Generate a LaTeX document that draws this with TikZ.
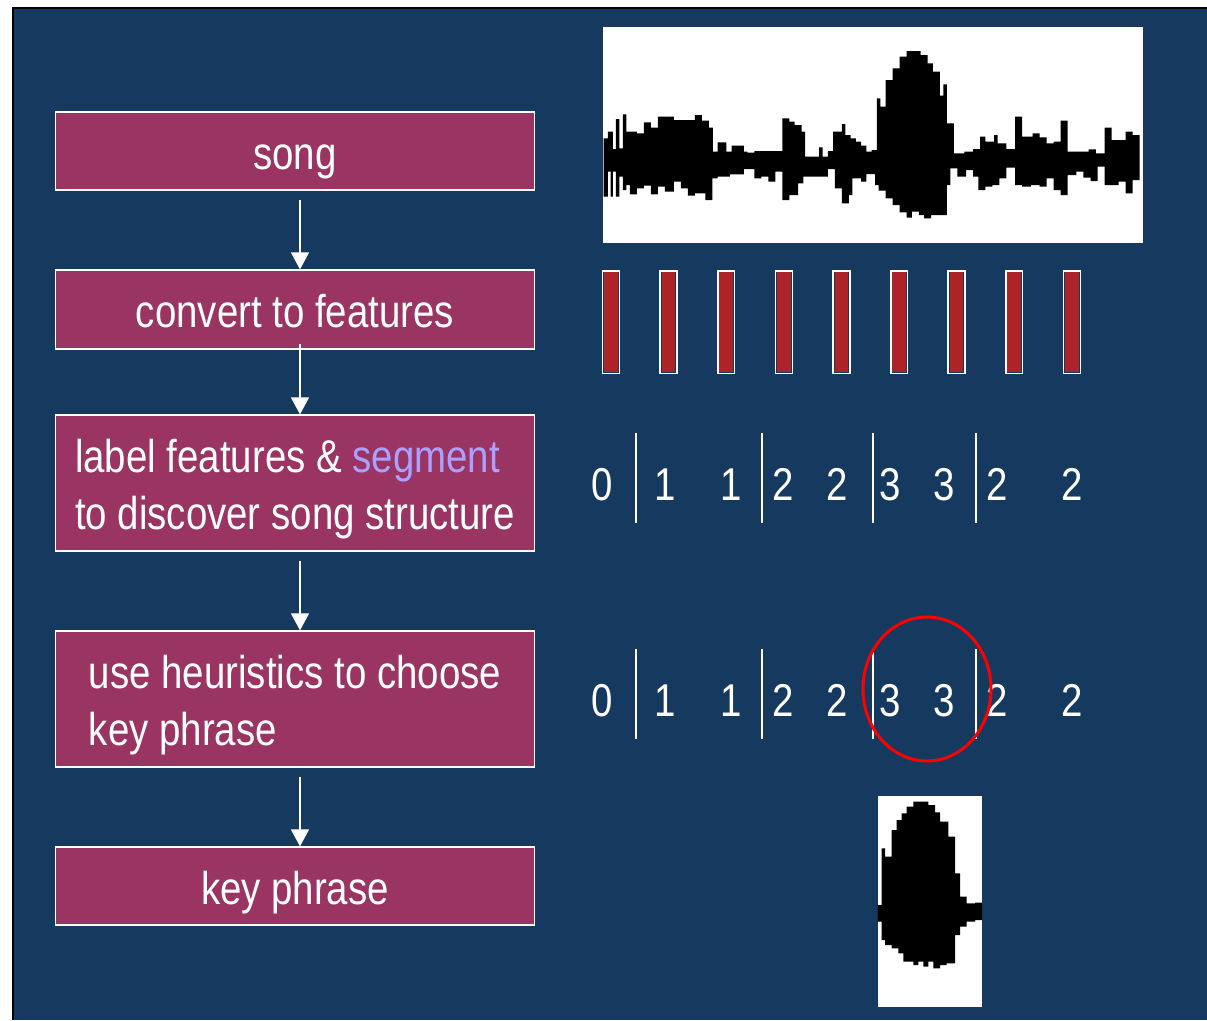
\documentclass[tikz,border=0pt]{standalone}
\usepackage{fontspec}
\setmainfont{Liberation Sans}[FakeStretch=0.835]
\usetikzlibrary{arrows.meta,calc}
\definecolor{bgblue}{RGB}{22,58,95}
\definecolor{boxred}{RGB}{154,52,99}
\definecolor{barred}{RGB}{174,35,40}
\definecolor{seglav}{RGB}{170,160,255}
\newcommand\mystrut{\rule[-9.7pt]{0pt}{45.7pt}}
\newcommand\topstrut{\rule[-9.7pt]{0pt}{55.7pt}}
\begin{document}
\begin{tikzpicture}[x=1pt,y=-1pt,
  stepbox/.style={draw=white, line width=1.3pt, fill=boxred, minimum width=479pt, inner sep=0pt, text=white, align=left, font=\fontsize{46}{57.5}\selectfont},
  arr/.style={draw=white, line width=1.5pt, -{Triangle[width=18pt,length=17pt]}},
  digit/.style={anchor=base, text=white, inner sep=0pt, font=\fontsize{46}{55}\selectfont},
  sepline/.style={draw=white, line width=2pt},
  featbar/.style={draw=white, line width=1.5pt}]
\useasboundingbox (0,0) rectangle (1207,1020);
\fill[white] (0,0) rectangle (1207,1020);
\fill[bgblue] (13,8) rectangle (1207,1020);
\draw[black,line width=2.5pt] (13.2,1020) -- (13.2,8.2) -- (1207,8.2);

% flow boxes
\node[stepbox, minimum height=78pt] (b1) at (295,151) {\topstrut song};
\node[stepbox, minimum height=79pt] (b2) at (295,309.5) {\topstrut convert to features};
\node[stepbox, minimum height=136pt] (b3) at (295,483) {\topstrut label features \& \textcolor{seglav}{segment}\\\mystrut to discover song structure};
\node[stepbox, minimum height=136pt] (b4) at (295,699) {\topstrut use heuristics to choose\\\mystrut key phrase\hspace{8pt}};
\node[stepbox, minimum height=78pt] (b5) at (295,886) {\topstrut key phrase};

\draw[arr] ([xshift=5pt,yshift=-9pt]b1.south) -- ([xshift=5pt]b2.north);
\draw[arr] ([xshift=5pt,yshift=6pt]b2.south) -- ([xshift=5pt]b3.north);
\draw[arr] ([xshift=5pt,yshift=-9pt]b3.south) -- ([xshift=5pt]b4.north);
\draw[arr] ([xshift=5pt,yshift=-9pt]b4.south) -- ([xshift=5pt]b5.north);

% waveform
\fill[white] (603,27) rectangle (1143,243);
\begin{scope}[xshift=600.2pt, yshift=-25pt, x=0.3502pt, y=-0.33333pt]
\fill[black] (10,340) -| (22,320) -| (36,372) -| (45,282) -| (55,370) -| (65,268) -| (75,320) -| (105,325) -| (125,292) -| (145,308) -| (165,275) -| (210,285) -| (270,270) -| (290,287) -| (310,308) -| (322,380) -| (335,352) -| (360,380) -| (375,362) -| (410,380) -| (420,383) -| (440,378) -| (520,280) -| (540,290) -| (555,300) -| (575,320) -| (585,395) -| (625,367) -| (635,395) -| (650,378) -| (665,320) -| (690,297) -| (700,330) -| (715,340) -| (730,350) -| (745,362) -| (760,380) -| (775,375) -| (790,220) -| (800,245) -| (815,165) -| (835,130) -| (855,95) -| (875,78) -| (915,90) -| (935,115) -| (950,140) -| (970,212) -| (980,178) -| (990,295) -| (1010,385) -| (1040,380) -| (1065,372) -| (1085,335) -| (1100,350) -| (1125,330) -| (1135,355) -| (1160,372) -| (1185,275) -| (1205,335) -| (1235,325) -| (1255,337) -| (1275,355) -| (1295,350) -| (1315,287) -| (1335,380) -| (1395,373) -| (1415,385) -| (1440,308) -| (1460,345) -| (1500,320) -| (1520,330) -- (1540,330)
 |- (1520,465) |- (1500,505) |- (1480,470) |- (1440,480) |- (1420,425) |- (1400,468) |- (1380,458) |- (1360,440) |- (1335,450) |- (1315,510) |- (1295,495) |- (1275,460) |- (1255,485) |- (1230,480) |- (1205,485) |- (1185,480) |- (1160,428) |- (1140,460) |- (1120,480) |- (1100,485) |- (1080,495) |- (1065,455) |- (1045,435) |- (1020,455) |- (1000,430) |- (990,480) |- (945,570) |- (925,580) |- (910,570) |- (890,560) |- (875,578) |- (855,562) |- (835,540) |- (815,520) |- (795,497) |- (785,480) |- (760,447) |- (745,470) |- (720,460) |- (710,510) |- (690,535) |- (670,490) |- (650,432) |- (580,455) |- (565,475) |- (540,510) |- (520,525) |- (500,440) |- (480,470) |- (460,455) |- (440,460) |- (410,432) |- (370,448) |- (335,455) |- (320,460) |- (300,525) |- (270,505) |- (250,512) |- (230,490) |- (210,470) |- (185,500) |- (165,485) |- (145,508) |- (125,482) |- (105,490) |- (85,508) |- (75,480) |- (65,495) |- (55,455) |- (45,515) |- (36,440) |- (30,515) |- (22,440) |- (10,515) -- cycle;
\end{scope}

% feature bars
\foreach \bx in {601.7,659.3,717,774.7,832.3,890,947.3,1005,1062.7}{
  \draw[featbar] (\bx+0.75,270.75) rectangle (\bx+17.55,373.25);
  \fill[barred] (\bx+2.2,272.4) rectangle (\bx+16.1,371.6);
}

% labels rows
\foreach \row/\by in {1/500,2/716}{
  \foreach \i/\dx/\dv in {1/602/0,2/665/1,3/731/1,4/783/2,5/837/2,6/890.5/3,7/944/3,8/997/2,9/1072/2}{
    \node[digit] (r\row d\i) at (\dx,\by) {\dv};
  }
  \foreach \sx in {636,762,873,976}{
    \draw[sepline] (\sx,\by-67) -- (\sx,\by+23);
  }
}
\draw[red, line width=3pt] (927,689) ellipse [x radius=64pt, y radius=72pt];

% key phrase waveform
\fill[white] (877.7,795.7) rectangle (982,1006.7);
\begin{scope}[xshift=860pt, yshift=-780pt, x=0.33333pt, y=-0.33333pt]
\fill[black] (53,375) -| (65,205) -| (75,230) -| (95,150) -| (110,120) -| (125,100) -| (140,80) -| (160,65) -| (205,75) -| (225,97) -| (240,125) -| (265,170) -| (285,280) -| (300,350) -| (320,370) -| (345,368) -- (366,368)
 |- (345,420) |- (320,425) |- (300,440) |- (285,465) |- (260,550) |- (240,555) |- (220,565) |- (205,545) |- (190,560) |- (175,545) |- (160,555) |- (130,545) |- (115,520) |- (95,505) |- (75,495) |- (65,480) |- (53,425) -- cycle;
\end{scope}
\end{tikzpicture}
\end{document}
